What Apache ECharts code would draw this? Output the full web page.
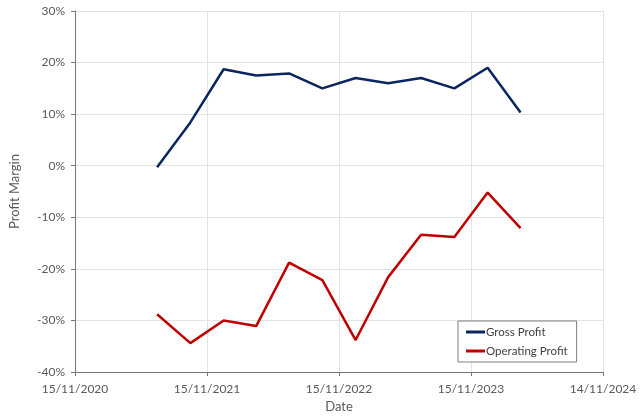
<!DOCTYPE html>
<html><head><meta charset="utf-8">
<script src="https://cdn.jsdelivr.net/npm/echarts@6/dist/echarts.min.js"></script>
<style>html,body{margin:0;padding:0;background:#fff}#c{width:640px;height:418px}</style>
</head><body><div id="c"></div>
<script>
// Quarter-end dates
const dates = ['2021-06-30','2021-09-30','2021-12-31','2022-03-31','2022-06-30','2022-09-30','2022-12-31','2023-03-31','2023-06-30','2023-09-30','2023-12-31','2024-03-31'];
const grossProfit = [-0.3, 8.4, 18.7, 17.5, 17.9, 15.0, 17.0, 16.0, 17.0, 15.0, 19.0, 10.3];
const operatingProfit = [-28.8, -34.4, -30.0, -31.1, -18.8, -22.2, -33.8, -21.6, -13.4, -13.8, -5.2, -12.1];
const xTickStart = '2020-11-15';
const yTicks = [-40, -30, -20, -10, 0, 10, 20, 30];

const DAY = 86400000;
const origin = Date.parse(xTickStart + 'T00:00:00Z');
const toDays = d => Math.round((Date.parse(d + 'T00:00:00Z') - origin) / DAY);
const fmt = v => {
  const d = new Date(origin + v * DAY);
  const p = n => String(n).padStart(2, '0');
  return p(d.getUTCDate()) + '/' + p(d.getUTCMonth() + 1) + '/' + d.getUTCFullYear();
};
const font = 'Lato, "Open Sans", sans-serif';
const chart = echarts.init(document.getElementById('c'), null, {renderer: 'canvas'});
chart.setOption({
  animation: false,
  textStyle: {fontFamily: font},
  grid: {left: 70, right: 37, top: 11, bottom: 43, containLabel: false},
  xAxis: {
    type: 'value', min: 0, max: 1460, interval: 365,
    name: 'Date', nameLocation: 'middle', nameGap: 28,
    nameTextStyle: {color: '#595959', fontSize: 13, fontFamily: font},
    axisLine: {show: true, onZero: false, lineStyle: {color: '#767676', width: 1}},
    axisTick: {show: true, length: 4, lineStyle: {color: '#767676'}},
    axisLabel: {color: '#595959', fontSize: 12, margin: 11, formatter: fmt, fontFamily: font},
    splitLine: {show: true, lineStyle: {color: '#e3e3e3', width: 1}}
  },
  yAxis: {
    type: 'value', min: yTicks[0], max: yTicks[yTicks.length - 1], interval: 10,
    name: 'Profit Margin', nameLocation: 'middle', nameGap: 54,
    nameTextStyle: {color: '#595959', fontSize: 13, fontFamily: font},
    axisLine: {show: true, lineStyle: {color: '#767676', width: 1}},
    axisTick: {show: true, length: 4, lineStyle: {color: '#767676'}},
    axisLabel: {color: '#595959', fontSize: 12, margin: 10, formatter: v => v + '%', fontFamily: font},
    splitLine: {show: true, lineStyle: {color: '#e3e3e3', width: 1}}
  },
  legend: {
    orient: 'vertical', left: 458, top: 321,
    backgroundColor: '#fff', borderColor: '#7f7f7f', borderWidth: 1,
    padding: [5, 9, 5, 8], itemGap: 7, itemWidth: 19, itemHeight: 3, icon: 'rect',
    textStyle: {color: '#404040', fontSize: 11.5, padding: [0, 0, 0, -4], fontFamily: font},
    data: ['Gross Profit', 'Operating Profit']
  },
  series: [
    {name: 'Gross Profit', type: 'line', showSymbol: false, symbol: 'none',
     data: dates.map((d, i) => [toDays(d), grossProfit[i]]),
     lineStyle: {color: '#0b2560', width: 2.5}, itemStyle: {color: '#0b2560'}},
    {name: 'Operating Profit', type: 'line', showSymbol: false, symbol: 'none',
     data: dates.map((d, i) => [toDays(d), operatingProfit[i]]),
     lineStyle: {color: '#c00000', width: 2.5}, itemStyle: {color: '#c00000'}}
  ]
});
</script></body></html>
